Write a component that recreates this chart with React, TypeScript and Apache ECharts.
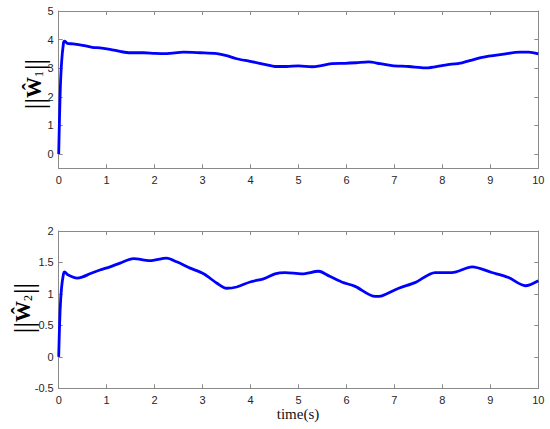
import React, { useEffect, useRef } from "react";
import * as echarts from "echarts";

const xTicks = [0, 1, 2, 3, 4, 5, 6, 7, 8, 9, 10];
const topYTicks = [0, 1, 2, 3, 4, 5];

const t1 = [0, 0.03, 0.06, 0.1, 0.12, 0.18, 0.3, 0.5, 0.7, 0.86, 1.07, 1.3, 1.49, 1.77, 2.0, 2.25, 2.6, 2.95, 3.3, 3.5, 3.71, 3.99, 4.34, 4.51, 4.75, 5.0, 5.28, 5.5, 5.7, 5.97, 6.2, 6.46, 6.7, 6.95, 7.3, 7.64, 7.85, 8.06, 8.41, 8.65, 8.83, 9.24, 9.62, 9.8, 10];
const w1 = [0, 2.1, 3.2, 3.88, 3.95, 3.87, 3.85, 3.8, 3.73, 3.71, 3.66, 3.58, 3.54, 3.54, 3.52, 3.51, 3.56, 3.54, 3.51, 3.44, 3.33, 3.24, 3.12, 3.06, 3.06, 3.08, 3.05, 3.1, 3.16, 3.17, 3.19, 3.22, 3.16, 3.09, 3.06, 3.01, 3.05, 3.11, 3.19, 3.3, 3.38, 3.48, 3.56, 3.56, 3.5];

const t2 = [0, 0.03, 0.06, 0.1, 0.12, 0.2, 0.38, 0.5, 0.65, 0.86, 1.07, 1.28, 1.56, 1.9, 2.25, 2.46, 2.74, 3.02, 3.3, 3.5, 3.71, 3.99, 4.27, 4.51, 4.72, 5.07, 5.42, 5.65, 5.9, 6.18, 6.6, 6.74, 7.09, 7.43, 7.85, 8.2, 8.62, 9.03, 9.38, 9.73, 10];
const w2 = [0, 0.75, 1.1, 1.32, 1.35, 1.3, 1.25, 1.27, 1.32, 1.38, 1.43, 1.49, 1.56, 1.53, 1.57, 1.51, 1.41, 1.32, 1.17, 1.09, 1.11, 1.19, 1.24, 1.32, 1.34, 1.32, 1.36, 1.28, 1.19, 1.12, 0.96, 0.97, 1.09, 1.18, 1.34, 1.34, 1.43, 1.34, 1.26, 1.13, 1.21];

const axisColor = "#8a8a8a";
const labelColor = "#262626";
const sans = "Liberation Sans";
const serif = "Liberation Serif";

function xAxes(gridIndex: number, showLabels: boolean, position: "bottom" | "top") {
  return {
    type: "value",
    gridIndex,
    position,
    min: 0,
    max: 10,
    interval: 1,
    axisLine: { show: true, onZero: false, lineStyle: { color: axisColor, width: 1 } },
    axisTick: { show: true, inside: true, length: 4, lineStyle: { color: axisColor } },
    axisLabel: { show: showLabels, color: labelColor, fontFamily: sans, fontSize: 11, margin: 6 },
    splitLine: { show: false },
  };
}

export default function App() {
  const ref = useRef<HTMLDivElement>(null);
  useEffect(() => {
    if (!ref.current) return;
    const chart = echarts.init(ref.current, null, { renderer: "svg" });
    const yBase = (gridIndex: number, position: "left" | "right", showLabels: boolean) => ({
      type: "value",
      gridIndex,
      position,
      axisLine: { show: true, onZero: false, lineStyle: { color: axisColor, width: 1 } },
      axisTick: { show: true, inside: true, length: 4, lineStyle: { color: axisColor } },
      axisLabel: { show: showLabels, color: labelColor, fontFamily: sans, fontSize: 11, margin: 5 },
      splitLine: { show: false },
    });
    const topY = (position: "left" | "right", showLabels: boolean) => {
      const b: any = yBase(0, position, showLabels);
      b.min = -0.5;
      b.max = 5;
      b.axisLabel.customValues = topYTicks;
      b.axisTick.customValues = topYTicks;
      return b;
    };
    const botY = (position: "left" | "right", showLabels: boolean) => {
      const b: any = yBase(1, position, showLabels);
      b.min = -0.5;
      b.max = 2;
      b.interval = 0.5;
      return b;
    };
    const labelRich = {
      bar: { fontFamily: serif, fontSize: 28, color: "#8a8a8a", verticalAlign: "middle", lineHeight: 30 },
      w: { fontFamily: serif, fontSize: 21, color: "#111", fontWeight: "bold", verticalAlign: "middle", lineHeight: 30 },
      sub: { fontFamily: serif, fontSize: 12, color: "#111", verticalAlign: "middle", lineHeight: 30, padding: [10, 1, 0, 0] },
    };
    chart.setOption({
      animation: false,
      grid: [
        { left: 58.7, right: 11.7, top: 11, height: 157.3 },
        { left: 58.7, right: 11.7, top: 231, height: 157.3 },
      ],
      xAxis: [
        xAxes(0, true, "bottom"),
        xAxes(0, false, "top"),
        xAxes(1, true, "bottom"),
        xAxes(1, false, "top"),
      ],
      yAxis: [topY("left", true), topY("right", false), botY("left", true), botY("right", false)],
      series: [
        {
          type: "line",
          xAxisIndex: 0,
          yAxisIndex: 0,
          data: t1.map((t, i) => [t, w1[i]]),
          showSymbol: false,
          smooth: 0.3,
          lineStyle: { color: "#0000ff", width: 2.8 },
        },
        {
          type: "line",
          xAxisIndex: 2,
          yAxisIndex: 2,
          data: t2.map((t, i) => [t, w2[i]]),
          showSymbol: false,
          smooth: 0.3,
          lineStyle: { color: "#0000ff", width: 2.8 },
        },
      ],
      graphic: [
        {
          type: "text",
          x: 34,
          y: 84,
          rotation: Math.PI / 2,
          style: {
            text: "{bar|||}{w|Ŵ}{sub|1}{bar|||}",
            rich: labelRich,
            align: "center",
            verticalAlign: "middle",
          },
        },
        {
          type: "text",
          x: 23,
          y: 308,
          rotation: Math.PI / 2,
          style: {
            text: "{bar|||}{w|Ŵ}{sub|2}{bar|||}",
            rich: labelRich,
            align: "center",
            verticalAlign: "middle",
          },
        },
        {
          type: "text",
          x: 298,
          y: 414,
          style: {
            text: "time(s)",
            fontFamily: serif,
            fontSize: 15,
            fill: "#111",
            align: "center",
            verticalAlign: "middle",
          },
        },
      ],
    });
    return () => chart.dispose();
  }, []);
  return (
    <div
      ref={ref}
      style={{ position: "fixed", left: 0, top: 0, width: 550, height: 429, background: "#fff" }}
    />
  );
}
